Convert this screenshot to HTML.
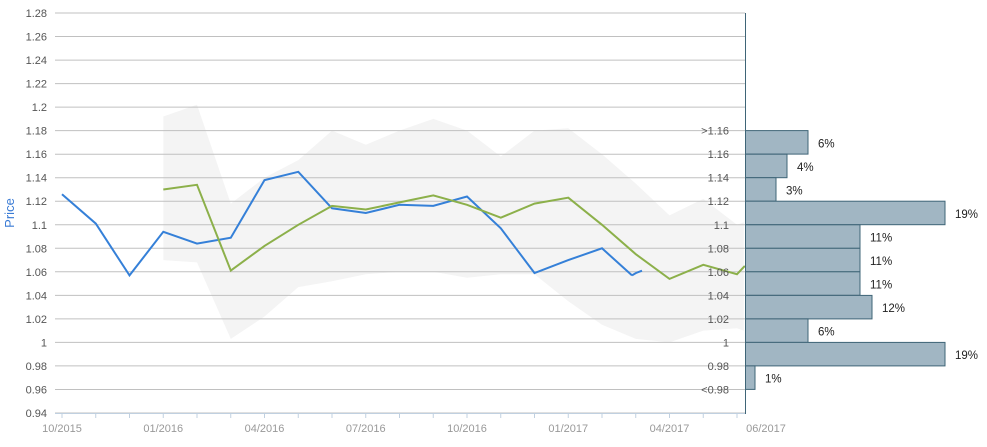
<!DOCTYPE html>
<html><head><meta charset="utf-8"><style>
body{margin:0;background:#fff;}
svg text{font-family:"Liberation Sans",sans-serif;}
</style></head><body>
<svg id="s" width="987" height="442" xmlns="http://www.w3.org/2000/svg"></svg>
<script>
const s=document.getElementById('s');
let h='';
const Y=v=>13+(1.28-v)*1176.47;
const X=i=>62+i*33.75;
const up=[[3,1.192],[4,1.202],[5,1.118],[6,1.140],[7,1.155],[8,1.180],[9,1.168],[10,1.180],[11,1.190],[12,1.180],[13,1.158],[14,1.180],[15,1.182],[16,1.160],[17,1.135],[18,1.108],[19,1.122],[20,1.100],[20.2,1.102]];
const lo=[[3,1.070],[4,1.068],[5,1.003],[6,1.022],[7,1.047],[8,1.052],[9,1.058],[10,1.060],[11,1.060],[12,1.055],[13,1.058],[14,1.058],[15,1.035],[16,1.015],[17,1.003],[18,1.000],[19,1.010],[20,1.012],[20.2,1.010]];
let pts=up.map(p=>X(p[0]).toFixed(1)+','+Y(p[1]).toFixed(1)).concat(lo.slice().reverse().map(p=>X(p[0]).toFixed(1)+','+Y(p[1]).toFixed(1)));
h+=`<polygon points="${pts.join(' ')}" fill="#f4f4f4"/>`;
for(let k=0;k<=17;k++){const v=1.28-k*0.02;const y=Y(v);
 h+=`<line x1="55" x2="745" y1="${y.toFixed(1)}" y2="${y.toFixed(1)}" stroke="#c0c0c0" stroke-width="1"/>`;
 let t=(Math.round(v*100)/100).toString();
 h+=`<text x="47" y="${(y+4).toFixed(1)}" font-size="11" fill="#555" text-anchor="end">${t}</text>`;}
h+=`<line x1="55" x2="745" y1="413.5" y2="413.5" stroke="#c0d0e0"/>`;
for(let i=0;i<=20;i++)h+=`<line x1="${X(i)}" x2="${X(i)}" y1="413" y2="418" stroke="#c0d0e0"/>`;
const xl=[[0,'10/2015'],[3,'01/2016'],[6,'04/2016'],[9,'07/2016'],[12,'10/2016'],[15,'01/2017'],[18,'04/2017']];
xl.forEach(a=>h+=`<text x="${X(a[0])}" y="432" font-size="11" fill="#999" text-anchor="middle">${a[1]}</text>`);
h+=`<text x="766" y="432" font-size="11" fill="#999" text-anchor="middle">06/2017</text>`;
h+=`<text x="14" y="213" font-size="13" fill="#3a7bd5" text-anchor="middle" transform="rotate(-90 14 213)">Price</text>`;
const bl=[1.126,1.101,1.057,1.094,1.084,1.089,1.138,1.145,1.114,1.110,1.117,1.116,1.124,1.097,1.059,1.070,1.080];
let bp=bl.map((v,i)=>X(i).toFixed(1)+','+Y(v).toFixed(1));bp.push('632,'+Y(1.057).toFixed(1));
h+=`<polyline points="${bp.join(' ')}" fill="none" stroke="#3580d8" stroke-width="2"/>`;
h+=`<polyline points="632,${Y(1.057)} 636,${Y(1.059)} 642,${Y(1.061)}" fill="none" stroke="#3580d8" stroke-width="2"/>`;
const gl=[[3,1.130],[4,1.134],[5,1.061],[6,1.082],[7,1.100],[8,1.116],[9,1.113],[10,1.119],[11,1.125],[12,1.117],[13,1.106],[14,1.118],[15,1.123],[16,1.100],[17,1.075],[18,1.054],[19,1.066],[20,1.058],[20.23,1.065]];
h+=`<polyline points="${gl.map(p=>X(p[0]).toFixed(1)+','+Y(p[1]).toFixed(1)).join(' ')}" fill="none" stroke="#8cb04a" stroke-width="2"/>`;
const bars=[[808,'6%'],[787,'4%'],[776,'3%'],[945,'19%'],[860,'11%'],[860,'11%'],[860,'11%'],[872,'12%'],[808,'6%'],[945,'19%'],[755,'1%']];
bars.forEach((b,k)=>{const y0=Y(1.18-k*0.02),y1=Y(1.16-k*0.02);
 h+=`<rect x="745.5" y="${y0.toFixed(1)}" width="${b[0]-745.5}" height="${(y1-y0).toFixed(1)}" fill="#a1b6c3" stroke="#3f6577" stroke-width="1"/>`;
 h+=`<text x="${b[0]+10}" y="${((y0+y1)/2+5).toFixed(1)}" font-size="11.5" fill="#222">${b[1]}</text>`;});
const cl=['>1.16','1.16','1.14','1.12','1.1','1.08','1.06','1.04','1.02','1','0.98','<0.98'];
cl.forEach((t,k)=>h+=`<text x="729" y="${(Y(1.18-k*0.02)+4).toFixed(1)}" font-size="11" fill="#555" text-anchor="end">${t.replace('<','&lt;').replace('>','&gt;')}</text>`);
h+=`<line x1="745.5" x2="745.5" y1="13" y2="414" stroke="#3f6577"/>`;
s.innerHTML=h;
</script>
</body></html>
